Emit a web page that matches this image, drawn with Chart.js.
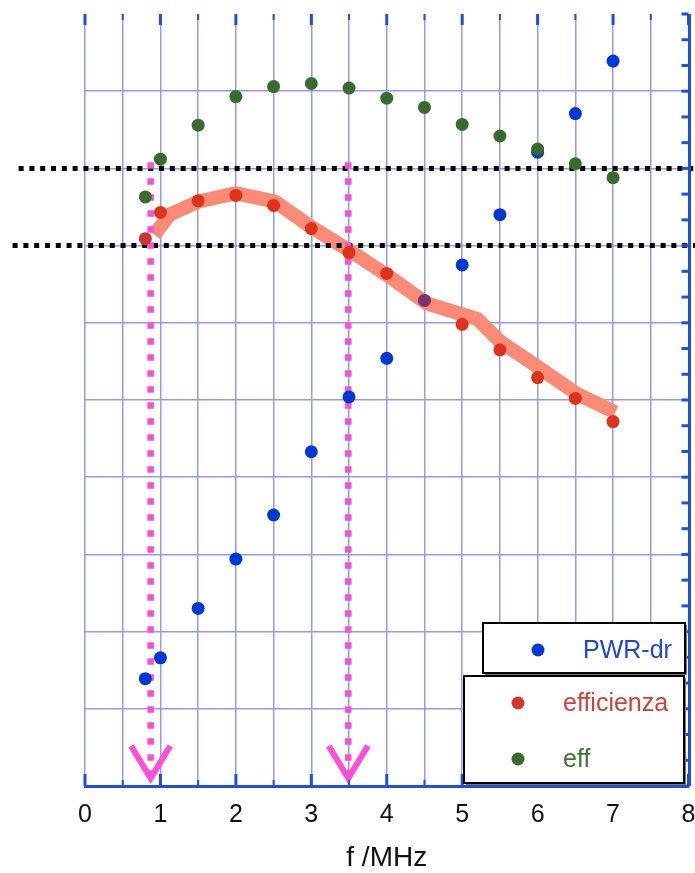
<!DOCTYPE html>
<html>
<head>
<meta charset="utf-8">
<script src="https://cdn.jsdelivr.net/npm/chart.js@4.4.1/dist/chart.umd.min.js"></script>
<style>
  body { margin: 0; background: #fff; }
</style>
</head>
<body>
<canvas id="chart" width="695" height="873"></canvas>
<script>
// frequency in MHz, y values in grid units (axis has no labels)
const freq = [0.8, 1, 1.5, 2, 2.5, 3, 3.5, 4, 4.5, 5, 5.5, 6, 6.5, 7];
const pwrDr = [1.39, 1.66, 2.30, 2.94, 3.51, 4.33, 5.04, 5.54, 6.29, 6.75, 7.40, 8.21, 8.71, 9.39];
const efficienza = [7.09, 7.43, 7.58, 7.65, 7.52, 7.22, 6.91, 6.64, 6.29, 5.98, 5.65, 5.29, 5.02, 4.72];
const eff = [7.63, 8.12, 8.56, 8.93, 9.06, 9.10, 9.04, 8.91, 8.79, 8.57, 8.42, 8.25, 8.06, 7.88];

// hand drawn highlight along efficienza
const markX = [0.92, 1.12, 1.5, 2.0, 2.52, 3.0, 3.5, 4.06, 4.53, 5.2, 5.5, 6.03, 6.52, 7.03];
const markY = [7.14, 7.40, 7.57, 7.68, 7.57, 7.24, 6.94, 6.58, 6.25, 6.05, 5.76, 5.41, 5.08, 4.84];

// dotted reference levels and arrows
const levelY = [8, 7];
const levelFrom = [-0.88, -0.96];
const levelTo = 8.1;
const arrowX = [0.87, 3.49];
const arrowFrom = 8.08;
const arrowTo = 0.15;

const BLUE = '#0037d7', RED = '#e0311a', GREEN = '#3a6b2e', PINK = '#ff4fd8';
const AXIS = '#1f4fdc', GRID = '#939ceb';

const pts = ys => freq.map((f, i) => ({ x: f, y: ys[i] }));

const datasets = [
    {
        label: 'eff', data: pts(eff), order: 1,
        backgroundColor: GREEN, pointRadius: 6.5, borderWidth: 0, showLine: false
    },
    {
        label: 'PWR-dr', data: pts(pwrDr), order: 2,
        backgroundColor: freq.map(f => f === 4.5 ? 'rgba(0,55,215,0.45)' : BLUE),
        pointRadius: 6.5, borderWidth: 0, showLine: false
    },
    {
        label: 'efficienza', data: pts(efficienza), order: 3,
        backgroundColor: freq.map(f => f === 0.8 ? '#c9362a' : RED),
        pointRadius: 6.5, borderWidth: 0, showLine: false
    },
    {
        label: 'mark', data: markX.map((x, i) => ({ x, y: markY[i] })), order: 6,
        type: 'line', borderColor: '#fb8b76', borderWidth: 14, pointRadius: 0,
        borderJoinStyle: 'miter', fill: false
    }
];

levelY.forEach((y, i) => datasets.push({
    label: 'level', type: 'line', order: 5, clip: false,
    data: [{ x: levelFrom[i], y }, { x: levelTo, y }],
    borderColor: '#000', borderWidth: 5, borderDash: [5, 5.8], pointRadius: 0
}));

arrowX.forEach(x => {
    datasets.push({
        label: 'arrow', type: 'line', order: 4, clip: false,
        data: [{ x, y: arrowFrom }, { x, y: arrowTo }],
        borderColor: PINK, borderWidth: 6.5, borderDash: [6.5, 9.5], pointRadius: 0
    });
    datasets.push({
        label: 'arrow', type: 'line', order: 4, clip: false,
        data: [{ x: x - 0.26, y: 0.52 }, { x, y: 0.1 }, { x: x + 0.26, y: 0.52 }],
        borderColor: PINK, borderWidth: 6, pointRadius: 0, borderJoinStyle: 'miter'
    });
});

// inward ticks, right axis and the boxed legend
const frame = {
    id: 'frame',
    afterDraw(chart) {
        const { ctx, chartArea: a, scales: { x, y } } = chart;
        ctx.save();
        ctx.strokeStyle = AXIS;
        ctx.lineCap = 'butt';
        for (let v = 0; v <= 8; v += 0.5) {
            const px = x.getPixelForValue(v);
            const major = v % 1 === 0;
            ctx.lineWidth = major ? 3 : 2;
            ctx.beginPath();
            ctx.moveTo(px, a.bottom); ctx.lineTo(px, a.bottom - (major ? 12 : 6));
            ctx.moveTo(px, a.top); ctx.lineTo(px, a.top + (major ? 11 : 6));
            ctx.stroke();
        }
        ctx.lineWidth = 3;
        ctx.beginPath();
        ctx.moveTo(a.right + 1, a.top); ctx.lineTo(a.right + 1, a.bottom);
        ctx.stroke();
        for (let k = 0; k <= 30; k++) {
            const py = y.getPixelForValue(k / 3);
            ctx.beginPath();
            ctx.moveTo(a.right, py); ctx.lineTo(a.right - 7, py);
            ctx.stroke();
        }

        const box = (l, t, r, b) => {
            ctx.fillStyle = '#777';
            ctx.fillRect(l + 2, t + 2, r - l, b - t);
            ctx.fillStyle = '#fff';
            ctx.fillRect(l, t, r - l, b - t);
            ctx.strokeStyle = '#000';
            ctx.lineWidth = 2;
            ctx.strokeRect(l, t, r - l, b - t);
        };
        box(483, 623, 685, 673);
        box(464, 676, 684, 783);

        const entries = [
            { label: datasets[1].label, color: BLUE, text: '#2045d0', dot: 538, tx: 583, ty: 650 },
            { label: datasets[2].label, color: '#d2372b', text: '#d2403a', dot: 518, tx: 563, ty: 703 },
            { label: datasets[0].label, color: GREEN, text: '#3f7436', dot: 518, tx: 563, ty: 759 }
        ];
        ctx.font = '25px "Liberation Sans", Arial, sans-serif';
        ctx.textBaseline = 'middle';
        entries.forEach(e => {
            ctx.fillStyle = e.color;
            ctx.beginPath();
            ctx.arc(e.dot, e.ty, 6.5, 0, Math.PI * 2);
            ctx.fill();
            ctx.fillStyle = e.text;
            ctx.fillText(e.label, e.tx, e.ty + 1);
        });
        ctx.restore();
    }
};

new Chart(document.getElementById('chart').getContext('2d'), {
    type: 'scatter',
    data: { datasets },
    options: {
        responsive: false,
        animation: false,
        layout: { padding: { left: 85, right: 6, top: 14, bottom: 1 } },
        plugins: { legend: { display: false }, tooltip: { enabled: false } },
        scales: {
            x: {
                type: 'linear', min: 0, max: 8,
                afterFit: s => { s.paddingLeft = 0; s.paddingRight = 0; },
                grid: { color: GRID, lineWidth: 1.5, drawTicks: false },
                border: { display: true, color: AXIS, width: 3 },
                ticks: {
                    stepSize: 0.5, autoSkip: false, maxRotation: 0, padding: 16.5,
                    color: '#111', font: { family: '"Liberation Sans", Arial', size: 25, lineHeight: 1 },
                    callback: v => (v % 1 === 0 ? v : '')
                },
                title: {
                    display: true, text: 'f /MHz', color: '#111',
                    font: { family: '"Liberation Sans", Arial', size: 28, lineHeight: 1 },
                    padding: { top: 0, bottom: 0 }
                }
            },
            y: {
                type: 'linear', min: 0, max: 10,
                grid: {
                    color: c => (c.tick.value === 10 ? 'rgba(0,0,0,0)' : GRID),
                    lineWidth: 1.5, drawTicks: false
                },
                border: { display: false },
                ticks: { display: false, stepSize: 1 }
            }
        }
    },
    plugins: [frame]
});
</script>
</body>
</html>
